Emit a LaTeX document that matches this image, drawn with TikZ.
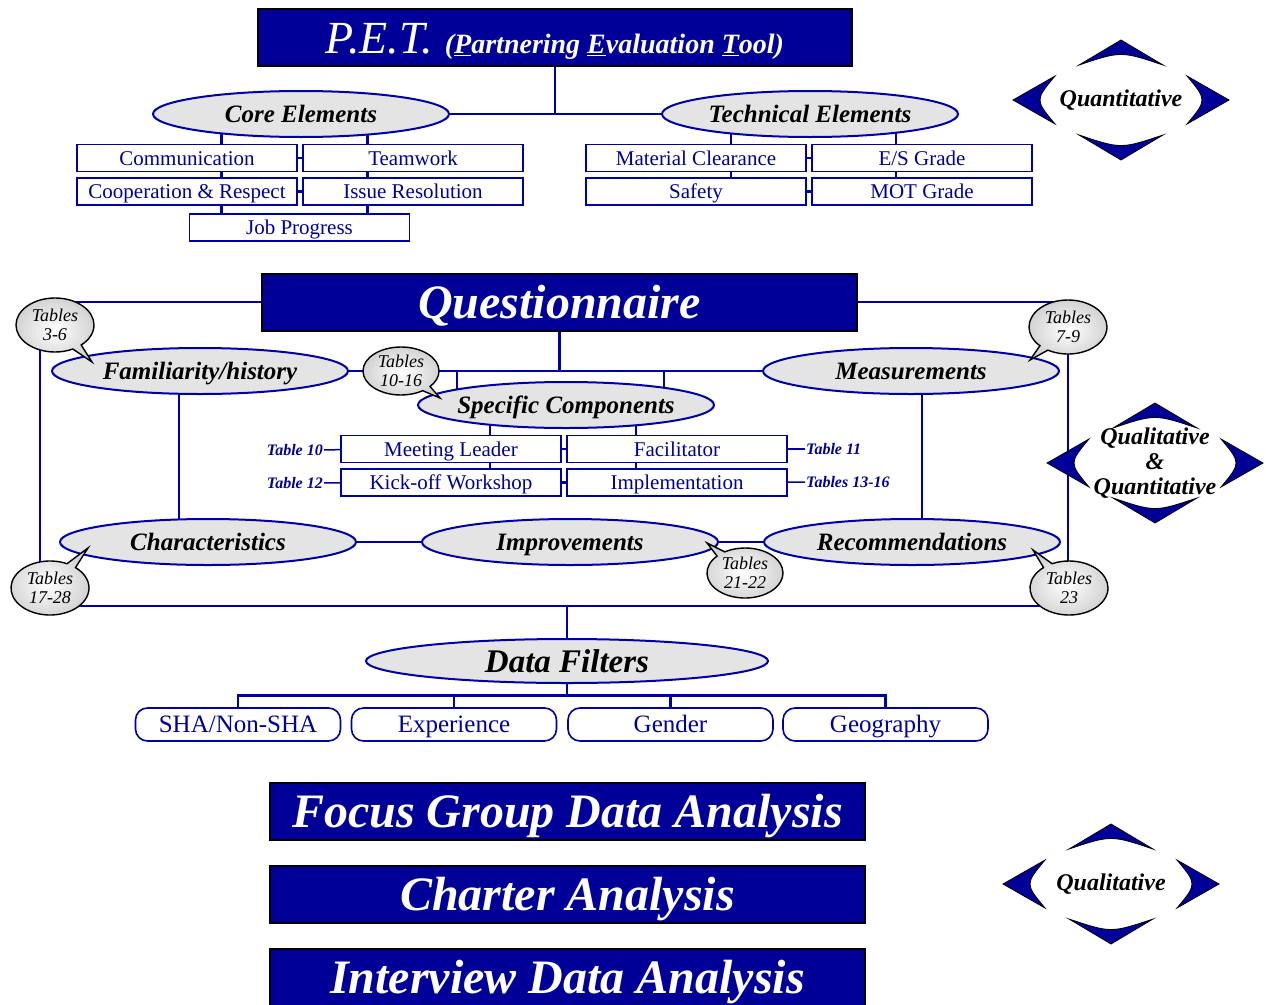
\documentclass[tikz,border=0pt]{standalone}
\usepackage{fontspec}
\setmainfont{Liberation Serif}
\usetikzlibrary{shapes.geometric,shapes.callouts,backgrounds,calc}

\definecolor{petnavy}{RGB}{0,0,153}
\definecolor{linenavy}{RGB}{0,0,170}
\definecolor{ovalgray}{RGB}{228,228,228}

\tikzset{
  titlebox/.style={draw=black, line width=2pt, fill=petnavy, text=white, minimum width=595pt,
    minimum height=57pt, inner sep=0pt, text height=34pt, text depth=2pt,
    font=\fontsize{48}{52}\selectfont\bfseries\itshape},
  oval/.style={ellipse, draw=linenavy, line width=2pt, fill=ovalgray, minimum width=296pt,
    minimum height=46pt, inner xsep=-30pt, inner ysep=-6pt, text height=18pt, text depth=2pt,
    font=\fontsize{25}{28}\selectfont\bfseries\itshape},
  itembox/.style={draw=linenavy, line width=1.6pt, fill=white, text=petnavy, minimum width=220pt,
    minimum height=27pt, inner sep=0pt, text height=15pt, text depth=1pt,
    font=\fontsize{21}{24}\selectfont},
  filterbox/.style={itembox, rounded corners=12pt, minimum width=205pt, minimum height=33pt,
    text height=18pt, text depth=2pt, font=\fontsize{25}{28}\selectfont},
  conn/.style={draw=linenavy, line width=2.6pt},
  tablabel/.style={text=petnavy, font=\fontsize{16}{18}\selectfont\bfseries\itshape, inner sep=1pt},
  bubble/.style={ellipse callout, draw=black, line width=1.4pt, inner color=white, outer color=gray!35,
    minimum width=78pt, minimum height=54pt, inner sep=0pt, align=center,
    font=\fontsize{18}{19}\selectfont\itshape},
  piece/.style={fill=petnavy, draw=black, line width=0.8pt},
  qtext/.style={font=\fontsize{24}{25}\selectfont\bfseries\itshape, align=center, inner sep=0pt},
}

\begin{document}
\begin{tikzpicture}[x=1pt,y=-1pt]
\useasboundingbox (0,0) rectangle (1266,1004);

% P.E.T. part
\node[titlebox, minimum width=594pt] (pet) at (555,37.5)
  {{\fontsize{46}{50}\selectfont\mdseries\itshape P.E.T.}\ {\fontsize{28}{32}\selectfont(\underline{P}artnering \underline{E}valuation \underline{T}ool)}};
\node[oval] (core) at (301,114) {Core Elements};
\node[oval] (tech) at (810,114) {Technical Elements};

\node[itembox] (comm) at (187,158) {Communication};
\node[itembox] (team) at (413,158) {Teamwork};
\node[itembox] (coop) at (187,191.5) {Cooperation \& Respect};
\node[itembox] (issue) at (413,191.5) {Issue Resolution};
\node[itembox] (job) at (299.5,227.5) {Job Progress};

\node[itembox] (mat) at (696,158) {Material Clearance};
\node[itembox] (es) at (922,158) {E/S Grade};
\node[itembox] (safe) at (696,191.5) {Safety};
\node[itembox] (mot) at (922,191.5) {MOT Grade};

% Questionnaire part
\node[titlebox] (quest) at (559.5,302) {Questionnaire};
\coordinate (ftl) at (40,302);
\coordinate (ftr) at (1068,302);
\coordinate (fbl) at (40,606);
\coordinate (fbr) at (1068,606);

\node[oval] (fam) at (200,371) {Familiarity/history};
\node[oval] (meas) at (911,371) {Measurements};
\node[oval] (spec) at (566,405) {Specific Components};
\node[oval] (char) at (208,542) {Characteristics};
\node[oval] (impr) at (570,542) {Improvements};
\node[oval] (reco) at (912,542) {Recommendations};

\node[itembox] (ml) at (451,449) {Meeting Leader};
\node[itembox] (fac) at (677,449) {Facilitator};
\node[itembox] (kick) at (451,482.5) {Kick-off Workshop};
\node[itembox] (impl) at (677,482.5) {Implementation};

\node[tablabel, anchor=east] (t10) at (324,450) {Table 10};
\node[tablabel, anchor=east] (t12) at (324,483) {Table 12};
\node[tablabel, anchor=west] (t11) at (805,449) {Table 11};
\node[tablabel, anchor=west] (t1316) at (805,482) {Tables 13-16};

\node[bubble, callout absolute pointer={(92,362)}] (b36) at (55,325) {Tables\\3-6};
\node[bubble, minimum width=76pt, minimum height=48pt, callout absolute pointer={(440,398)}] (b1016) at (401,371) {Tables\\10-16};
\node[bubble, callout absolute pointer={(1030,360)}] (b79) at (1068,327) {Tables\\7-9};
\node[bubble, callout absolute pointer={(88,548)}] (b1728) at (50,588) {Tables\\17-28};
\node[bubble, minimum width=76pt, minimum height=50pt, callout absolute pointer={(707,543)}] (b2122) at (745,573) {Tables\\21-22};
\node[bubble, callout absolute pointer={(1033,550)}] (b23) at (1069,588) {Tables\\23};

% Data filters part
\node[oval, minimum width=402pt, minimum height=44pt, text height=23pt, text depth=1pt,
  font=\fontsize{33}{36}\selectfont\bfseries\itshape] (filt) at (567,661) {Data Filters};
\node[filterbox] (sha) at (238,724.5) {SHA/Non-SHA};
\node[filterbox] (exp) at (454,724.5) {Experience};
\node[filterbox] (gen) at (670.5,724.5) {Gender};
\node[filterbox] (geo) at (885.5,724.5) {Geography};
\coordinate (bus) at ($(filt.south)!.5!(filt.south |- sha.north)$);

\node[titlebox] (focus) at (567.5,811.5) {Focus Group Data Analysis};
\node[titlebox] (charter) at (567.5,894.5) {Charter Analysis};
\node[titlebox] (inter) at (567.5,977.5) {Interview Data Analysis};

% connectors
\begin{pgfonlayer}{background}
\draw[conn] (pet.south) -- (pet.south |- core.east);
\draw[conn] (core.east) -- (tech.west);
\draw[conn] ([xshift=-78pt]job.north |- core.center) -- ([xshift=-78pt]job.north);
\draw[conn] ([xshift=68pt]job.north |- core.center) -- ([xshift=68pt]job.north);
\draw[conn] (comm) -- (team);
\draw[conn] (coop) -- (issue);
\draw[conn] ([xshift=35pt]mat.center |- tech.center) -- ([xshift=35pt]safe.north);
\draw[conn] ([xshift=-26pt]es.center |- tech.center) -- ([xshift=-26pt]mot.north);
\draw[conn] (mat) -- (es);
\draw[conn] (safe) -- (mot);

\draw[conn] (quest.west) -- (ftl) -- (fbl) -- (fbr) -- (ftr) -- (quest.east);
\draw[conn] (quest.south) -- (quest.south |- fam.east);
\draw[conn] (fam.east) -- (meas.west);
\draw[conn] ([xshift=-109pt]spec.center |- fam.east) -- ([xshift=-109pt]spec.center);
\draw[conn] ([xshift=98pt]spec.center |- fam.east) -- ([xshift=98pt]spec.center);
\draw[conn] ([xshift=-76pt]spec.center) -- ([xshift=-76pt]spec.center |- kick.north);
\draw[conn] ([xshift=70pt]spec.center) -- ([xshift=70pt]spec.center |- impl.north);
\draw[conn] (ml) -- (fac);
\draw[conn] (kick) -- (impl);
\draw[conn] ([xshift=-21pt]fam.center) -- ([xshift=-21pt]fam.center |- char.center);
\draw[conn] ([xshift=11pt]meas.center) -- ([xshift=11pt]meas.center |- reco.center);
\draw[conn] (char.east) -- (impr.west);
\draw[conn] (impr.east) -- (reco.west);
\draw[conn, line width=1.5pt] (t10) -- (ml);
\draw[conn, line width=1.5pt] (t12) -- (kick);
\draw[conn, line width=1.5pt] (t11) -- (fac);
\draw[conn, line width=1.5pt] (t1316) -- (impl);

\draw[conn] (filt.north |- fbl) -- (filt.north);
\draw[conn] (filt.south) -- (bus);
\draw[conn] (sha.north) |- (bus) -| (geo.north);
\draw[conn] (exp.north) -- (exp.north |- bus);
\draw[conn] (gen.north) -- (gen.north |- bus);
\end{pgfonlayer}

% arrow symbols
\foreach \cx/\cy in {1121/100, 1155/463, 1111/884} {
  \begin{scope}[shift={(\cx,\cy)}]
    \path[piece] (0,-60) -- (42,-35) .. controls (0,-49) .. (-42,-35) -- cycle;
    \path[piece] (0,60) -- (42,35) .. controls (0,49) .. (-42,35) -- cycle;
    \path[piece] (-108,0) -- (-66,-24) .. controls (-86,0) .. (-66,24) -- cycle;
    \path[piece] (108,0) -- (66,-24) .. controls (86,0) .. (66,24) -- cycle;
  \end{scope}
}
\node[qtext] (quant) at (1121,100) {Quantitative};
\node[qtext] (qq) at (1155,463) {Qualitative\\\&\\Quantitative};
\node[qtext] (qual) at (1111,884) {Qualitative};
\end{tikzpicture}
\end{document}
